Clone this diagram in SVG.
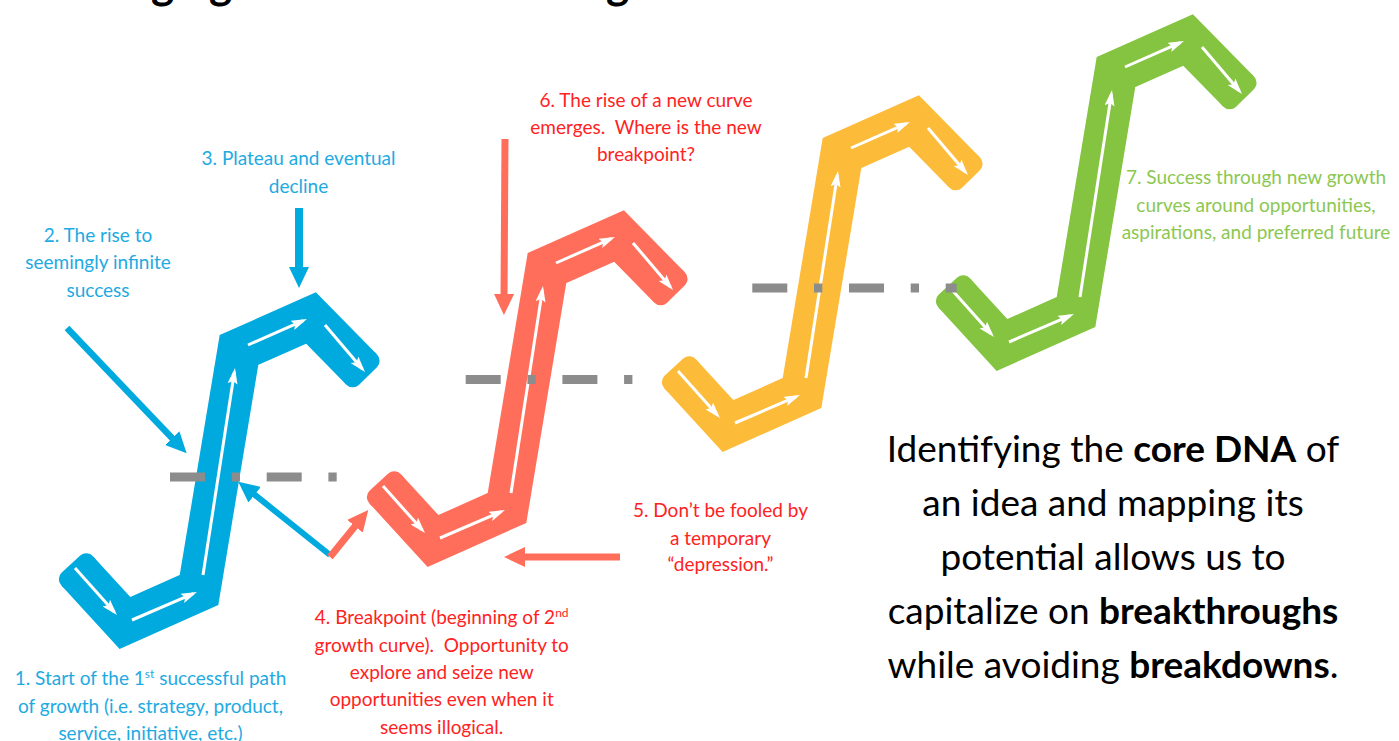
<svg xmlns="http://www.w3.org/2000/svg" xmlns:xlink="http://www.w3.org/1999/xlink" width="1399" height="741" viewBox="0 0 1399 741">
  <style>
    .lbl { font-family: Lato, "Open Sans", "Liberation Sans", sans-serif; font-size: 19px; text-anchor: middle; }
    .blue-t { fill: #1EAAE2; }
    .red-t { fill: #FF2222; }
    .green-t { fill: #8CC751; }
    .big { font-family: Lato, "Open Sans", "Liberation Sans", sans-serif; font-size: 37px; text-anchor: middle; fill: #000; }
    .b { font-weight: bold; }
    .dash { stroke: #8C8C8C; stroke-width: 9; fill: none; stroke-dasharray: 35 26.7 8.3 26.7; }
    .conn { fill: none; stroke-linecap: butt; }
    .inner { stroke: #fff; stroke-width: 3; fill: none; marker-end: url(#wh); }
  </style>
  <defs>
    <!-- small white arrowhead for the flow inside each curve -->
    <marker id="wh" viewBox="-12 -5 16 10" refX="0" refY="0" markerWidth="16" markerHeight="10" markerUnits="userSpaceOnUse" orient="auto">
      <path d="M-12,-5 L4,0 L-12,5 L-9,0 Z" fill="#fff"/>
    </marker>
    <marker id="ah-blue" viewBox="-6 -10 21 20" refX="0" refY="0" markerWidth="21" markerHeight="20" markerUnits="userSpaceOnUse" orient="auto">
      <path d="M-6,-10 L15,0 L-6,10 Z" fill="#00AADF"/>
    </marker>
    <marker id="ah-red" viewBox="-6 -10 21 20" refX="0" refY="0" markerWidth="21" markerHeight="20" markerUnits="userSpaceOnUse" orient="auto">
      <path d="M-6,-10 L15,0 L-6,10 Z" fill="#FF6E5A"/>
    </marker>
    <!-- one growth curve: thick bent band, rounded flat ends, white flow arrows -->
    <g id="curve">
      <polyline points="77.75,571.4 125,623 199,590 239,350 311,318 361,368.9" fill="none" stroke="currentColor" stroke-width="43" stroke-linejoin="miter"/>
      <rect x="-10" y="-21.5" width="20" height="43" rx="9" fill="currentColor" transform="translate(77.75,571.4) rotate(227.6)"/>
      <rect x="-10" y="-21.5" width="20" height="43" rx="9" fill="currentColor" transform="translate(361,368.9) rotate(45.5)"/>
      <path class="inner" d="M75,568 L114.3,612"/>
      <path class="inner" d="M132,620 L193.3,593.6"/>
      <path class="inner" d="M203,575 L234.4,372"/>
      <path class="inner" d="M248,345 L303.3,320.6"/>
      <path class="inner" d="M325,325 L362.4,369"/>
    </g>
  </defs>

  <rect width="1399" height="741" fill="#fff"/>

  <!-- heading, cut off by the top edge -->
  <text class="b" font-family="Lato, 'Open Sans', 'Liberation Sans', sans-serif" font-size="44" fill="#000" y="-1"><tspan x="151">g</tspan><tspan x="209">g</tspan><tspan x="606">g</tspan></text>

  <!-- growth curves -->
  <g id="curve-1" style="color:#00AADF"><use xlink:href="#curve"/></g>
  <g id="curve-2" style="color:#FF6E5A"><use xlink:href="#curve" transform="translate(308,-82)"/></g>
  <g id="curve-3" style="color:#FDBB3A"><use xlink:href="#curve" transform="translate(603,-197)"/></g>
  <g id="curve-4" style="color:#84C441"><use xlink:href="#curve" transform="translate(877,-278)"/></g>

  <!-- breakpoint levels -->
  <g id="levels">
    <line class="dash" x1="170" y1="477" x2="336.7" y2="477"/>
    <line class="dash" x1="465.7" y1="379.5" x2="633.3" y2="379.5"/>
    <line class="dash" x1="752.3" y1="288" x2="956.7" y2="288"/>
  </g>

  <!-- pointer arrows -->
  <g id="connectors">
    <path class="conn" d="M67,328 L176.3,442.5" stroke="#00AADF" stroke-width="6.5" marker-end="url(#ah-blue)"/>
    <path class="conn" d="M299,208 L299,273" stroke="#00AADF" stroke-width="8" marker-end="url(#ah-blue)"/>
    <path class="conn" d="M330,555 L250,491" stroke="#00AADF" stroke-width="6" marker-end="url(#ah-blue)"/>
    <path class="conn" d="M330,557 L358.8,521.6" stroke="#FF6E5A" stroke-width="7" marker-end="url(#ah-red)"/>
    <path class="conn" d="M620,557 L519,557" stroke="#FF6E5A" stroke-width="7" marker-end="url(#ah-red)"/>
    <path class="conn" d="M505,139 L504,300" stroke="#FF6E5A" stroke-width="7" marker-end="url(#ah-red)"/>
  </g>

  <!-- stage labels -->
  <g id="label-1">
    <text class="lbl blue-t" x="150.5" y="685">1. Start of the 1<tspan font-size="12" dy="-7">st</tspan><tspan dy="7"> successful path</tspan></text>
    <text class="lbl blue-t" x="150.5" y="712.5">of growth (i.e. strategy, product,</text>
    <text class="lbl blue-t" x="150.5" y="740">service, initiative, etc.)</text>
  </g>
  <g id="label-2">
    <text class="lbl blue-t" x="98" y="241.5">2. The rise to</text>
    <text class="lbl blue-t" x="98" y="269">seemingly infinite</text>
    <text class="lbl blue-t" x="98" y="296.5">success</text>
  </g>
  <g id="label-3">
    <text class="lbl blue-t" x="298.5" y="165">3. Plateau and eventual</text>
    <text class="lbl blue-t" x="298.5" y="192.5">decline</text>
  </g>
  <g id="label-4">
    <text class="lbl red-t" x="441.7" y="624.3">4. Breakpoint (beginning of 2<tspan font-size="12" dy="-7">nd</tspan></text>
    <text class="lbl red-t" x="441.7" y="651.7" xml:space="preserve">growth curve).  Opportunity to</text>
    <text class="lbl red-t" x="441.7" y="679">explore and seize new</text>
    <text class="lbl red-t" x="441.7" y="706.3">opportunities even when it</text>
    <text class="lbl red-t" x="441.7" y="733.6">seems illogical.</text>
  </g>
  <g id="label-5">
    <text class="lbl red-t" x="720.5" y="517.3">5. Don’t be fooled by</text>
    <text class="lbl red-t" x="720.5" y="544.5">a temporary</text>
    <text class="lbl red-t" x="720.5" y="571">“depression.”</text>
  </g>
  <g id="label-6">
    <text class="lbl red-t" x="646" y="106.7">6. The rise of a new curve</text>
    <text class="lbl red-t" x="646" y="134" xml:space="preserve">emerges.  Where is the new</text>
    <text class="lbl red-t" x="646" y="161">breakpoint?</text>
  </g>
  <g id="label-7">
    <text class="lbl green-t" x="1256" y="184.3">7. Success through new growth</text>
    <text class="lbl green-t" x="1256" y="211.5">curves around opportunities,</text>
    <text class="lbl green-t" x="1256" y="238.5">aspirations, and preferred future</text>
  </g>

  <!-- summary statement -->
  <g id="summary">
    <text class="big" x="1113" y="462">Identifying the <tspan class="b">core DNA</tspan> of</text>
    <text class="big" x="1113" y="516">an idea and mapping its</text>
    <text class="big" x="1113" y="570">potential allows us to</text>
    <text class="big" x="1113" y="624">capitalize on <tspan class="b">breakthroughs</tspan></text>
    <text class="big" x="1113" y="678">while avoiding <tspan class="b">breakdowns</tspan>.</text>
  </g>
</svg>
